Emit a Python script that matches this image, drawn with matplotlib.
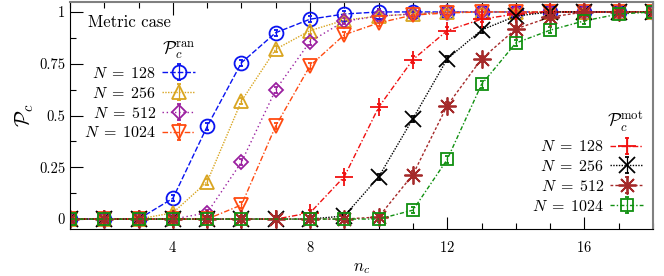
import numpy as np
import matplotlib
matplotlib.use("Agg")
import matplotlib.pyplot as plt
from matplotlib.ticker import MultipleLocator, FixedLocator

# Data
nc = [1, 2, 3, 4, 5, 6, 7, 8, 9, 10, 11, 12, 13, 14, 15, 16, 17, 18]
nc_mot1024 = [1, 2, 3, 4, 5, 6, 8, 9, 10, 11, 12, 13, 14, 15, 16, 17, 18]

ran_128 = [0, 0, 0, 0.10, 0.447, 0.755, 0.90, 0.965, 0.99, 1, 1, 1, 1, 1, 1, 1, 1, 1]
ran_256 = [0, 0, 0, 0.03, 0.18, 0.57, 0.82, 0.91, 0.96, 0.98, 0.99, 1, 1, 1, 1, 1, 1, 1]
ran_512 = [0, 0, 0, 0, 0.03, 0.275, 0.625, 0.857, 0.955, 0.98, 0.99, 1, 1, 1, 1, 1, 1, 1]
ran_1024 = [0, 0, 0, 0, 0, 0.068, 0.45, 0.74, 0.89, 0.947, 0.985, 0.995, 1, 1, 1, 1, 1, 1]

mot_128 = [0, 0, 0, 0, 0, 0, 0, 0.03, 0.205, 0.54, 0.77, 0.91, 0.965, 0.99, 1, 1, 1, 1]
mot_256 = [0, 0, 0, 0, 0, 0, 0, 0, 0.015, 0.203, 0.485, 0.773, 0.913, 0.98, 1, 1, 1, 1]
mot_512 = [0, 0, 0, 0, 0, 0, 0, 0, 0, 0.01, 0.215, 0.548, 0.773, 0.918, 0.975, 1, 1, 1]
mot_1024 = [0, 0, 0, 0, 0, 0, 0, 0, 0, 0.043, 0.288, 0.65, 0.85, 0.912, 0.957, 0.99, 1]

sizes = ["128", "256", "512", "1024"]
err = 0.015

plt.rcParams["font.family"] = "serif"
plt.rcParams["font.serif"] = ["cmr10"]
plt.rcParams["mathtext.fontset"] = "cm"
plt.rcParams["axes.formatter.use_mathtext"] = True

fig = plt.figure(figsize=(6.64, 2.76), dpi=100)
ax = fig.add_axes([70 / 664, 1 - 229 / 276, 583 / 664, 227 / 276])


def draw(x, y, color, marker, ms, ls, label):
	return ax.errorbar(x, y, yerr=err, color=color, marker=marker, ms=ms,
					   mfc="none", mec=color, mew=1.3, ls=ls, lw=1.0,
					   elinewidth=0.9, capsize=1.5, label=label)


ran_styles = [
	(ran_128, "#0a14f0", "o", 10, (0, (4, 1.5))),
	(ran_256, "#d9a520", "^", 10, (0, (1, 1))),
	(ran_512, "#9b20a0", "D", 7, (0, (1, 2))),
	(ran_1024, "#ff4a10", "v", 10, (0, (4, 1.5, 1, 1.5))),
]
mot_styles = [
	(nc, mot_128, "#f01010", "+", 13, (0, (4, 1.5, 1, 1.5))),
	(nc, mot_256, "#000000", "x", 11, (0, (1, 1))),
	(nc, mot_512, "#a52a2a", (8, 2, 0), 13, (0, (2, 1.5))),
	(nc_mot1024, mot_1024, "#109010", "s", 9, (0, (3, 1.5, 1, 1.5))),
]

ran_handles = []
for (vals, c, m, ms, ls), n in zip(ran_styles, sizes):
	ran_handles.append(draw(nc, vals, c, m, ms, ls, r"$N\;=\;%s$" % n))
mot_handles = []
for (xs, vals, c, m, ms, ls), n in zip(mot_styles, sizes):
	mot_handles.append(draw(xs, vals, c, m, ms, ls, r"$N\;=\;%s$" % n))

ax.set_xlim(1, 18)
ax.set_ylim(-0.048, 1.048)
ax.xaxis.set_major_locator(FixedLocator([4, 8, 12, 16]))
ax.xaxis.set_minor_locator(MultipleLocator(1))
ax.set_yticks([0, 0.25, 0.5, 0.75, 1])
ax.set_yticklabels(["0", "0.25", "0.5", "0.75", "1"])
ax.yaxis.set_minor_locator(MultipleLocator(0.125))
ax.tick_params(which="both", direction="in", top=True, right=False,
			   labelsize=10.5)
ax.tick_params(which="major", length=9, width=0.8)
ax.tick_params(which="minor", length=4, width=0.8)
ax.tick_params(axis="x", pad=8)
for side in ["top", "right"]:
	ax.spines[side].set_color("#808080")
	ax.spines[side].set_linewidth(1.5)

ax.set_xlabel(r"$n_c$", fontsize=12)
ax.set_ylabel(r"$\mathcal{P}_c$", fontsize=15, labelpad=2)

ax.text(88 / 664, 1 - 22 / 276, "Metric case", transform=fig.transFigure,
		fontsize=12, va="center", ha="left")

leg1 = ax.legend(handles=ran_handles, title=r"$\mathcal{P}_c^{\rm ran}$",
				 loc="upper right", bbox_to_anchor=(197 / 664, 1 - 38 / 276),
				 bbox_transform=fig.transFigure, frameon=False, markerfirst=False,
				 fontsize=11.5, title_fontsize=13, alignment="right",
				 handlelength=2.1, handletextpad=0.35, labelspacing=0.3,
				 borderpad=0.1, borderaxespad=0)
ax.add_artist(leg1)
ax.legend(handles=mot_handles, title=r"$\mathcal{P}_c^{\rm mot}$",
		  loc="upper right", bbox_to_anchor=(645 / 664, 1 - 108 / 276),
		  bbox_transform=fig.transFigure, frameon=False, markerfirst=False,
		  fontsize=11.5, title_fontsize=13, alignment="right",
		  handlelength=2.1, handletextpad=0.35, labelspacing=0.3,
		  borderpad=0.1, borderaxespad=0)

fig.savefig("out.png", dpi=100)
